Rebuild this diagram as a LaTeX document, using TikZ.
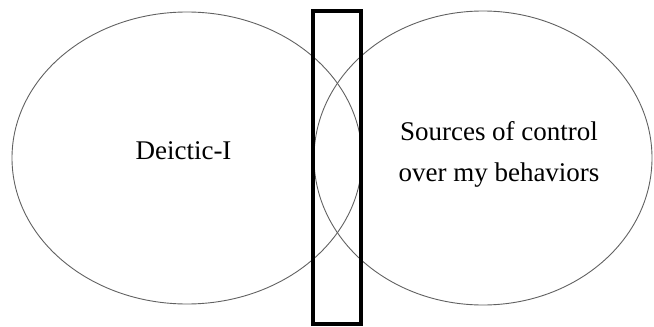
\documentclass[tikz,border=0pt]{standalone}
\usepackage{fontspec}
\setmainfont{Liberation Serif}
\begin{document}
\begin{tikzpicture}[x=1pt,y=-1pt,
  ring/.style={draw=black!62, line width=0.9pt},
  bar/.style={draw=black, line width=4pt},
  label/.style={font=\fontsize{27}{41}\selectfont, align=center, anchor=base, inner sep=0pt}]
\useasboundingbox (0,0) rectangle (654,327);
\draw[ring] (187,158) ellipse [x radius=175, y radius=146];
\draw[ring] (483,158) ellipse [x radius=169, y radius=147];
\node[bar, minimum width=48pt, minimum height=313pt, inner sep=0pt] (box) at (337,167.5) {};
\node[label] (self) at (183.5,159) {Deictic-I};
\node[label] (src) at (499,181) {Sources of control\\over my behaviors};
\end{tikzpicture}
\end{document}
